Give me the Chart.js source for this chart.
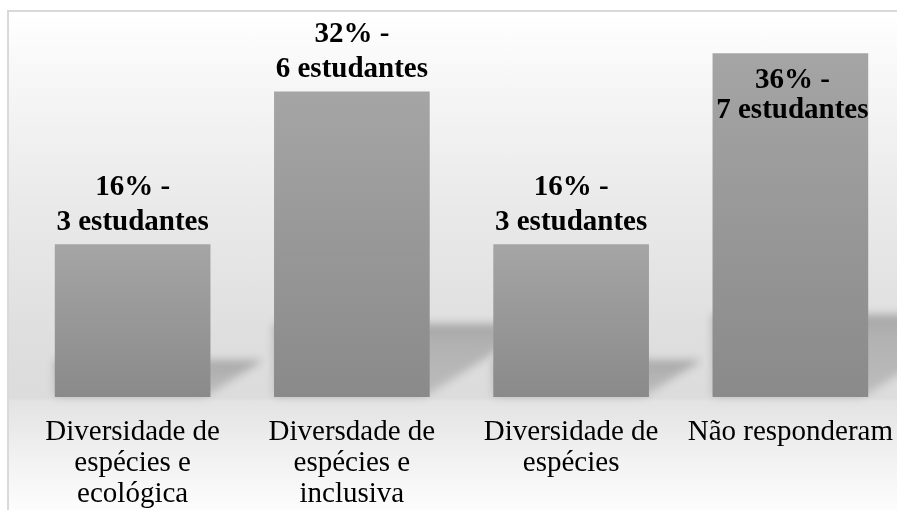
<!DOCTYPE html>
<html lang="pt">
<head>
<meta charset="utf-8">
<title>Respostas dos estudantes</title>
<script src="https://cdn.jsdelivr.net/npm/chart.js@4.4.1/dist/chart.umd.min.js"></script>
<style>
  html, body { margin: 0; padding: 0; background: #ffffff; overflow: hidden; }
  #stage { position: relative; width: 897px; height: 510px; overflow: hidden; }
  #panel {
    position: absolute; left: 7px; top: 10px; width: 900px; height: 510px;
    border-left: 2px solid #d9d9d9; border-top: 2px solid #d9d9d9;
    background: linear-gradient(to bottom,
      #ffffff 0px, #f4f4f4 90px, #e9e9e9 200px, #dedede 330px, #dcdcdc 386px,
      #e3e3e3 389px, #f0f0f0 440px, #fdfdfd 500px);
  }
  #chart { position: absolute; left: 0; top: 0; }
</style>
</head>
<body>
<div id="stage">
  <div id="panel"></div>
  <canvas id="chart" width="905" height="510"></canvas>
</div>
<script>
// Categorias (rótulos já quebrados em linhas)
const categories = [
  ["Diversidade de", "espécies e", "ecológica"],
  ["Diversdade de", "espécies e", "inclusiva"],
  ["Diversidade de", "espécies"],
  ["Não responderam"]
];
// Percentual de estudantes por resposta
const percentages = [16, 32, 16, 36];
// Número de estudantes por resposta
const students = [3, 6, 3, 7];
// Limite do eixo de valores
const yMax = 40;

const serif = '"Liberation Serif", "Times New Roman", serif';

// Gradiente vertical de cada barra: claro no topo, escuro na base
function barFill(ctx) {
  const chart = ctx.chart;
  if (!chart.chartArea || ctx.type !== 'data') return '#9a9a9a';
  const y = chart.scales.y;
  const top = y.getPixelForValue(ctx.parsed ? ctx.parsed.y : percentages[ctx.dataIndex]);
  const base = y.getPixelForValue(0);
  const g = chart.ctx.createLinearGradient(0, top, 0, base);
  g.addColorStop(0, '#a5a5a5');
  g.addColorStop(1, '#8a8a8a');
  return g;
}

// Sombra projetada no piso atrás de cada barra
const floorShadow = {
  id: 'floorShadow',
  beforeDatasetsDraw(chart) {
    const c = chart.ctx;
    const meta = chart.getDatasetMeta(0);
    c.save();
    c.filter = 'blur(4px)';
    meta.data.forEach((bar) => {
      const h = bar.base - bar.y;
      const dy = h * 0.24;
      const dx = dy * 1.6;
      const L = bar.x - bar.width / 2;
      const R = bar.x + bar.width / 2 - 6;
      const B = bar.base;
      const g = c.createLinearGradient(0, B - dy, 0, B);
      g.addColorStop(0, 'rgba(0,0,0,0.26)');
      g.addColorStop(0.25, 'rgba(0,0,0,0.2)');
      g.addColorStop(1, 'rgba(0,0,0,0.14)');
      c.fillStyle = g;
      c.beginPath();
      c.moveTo(L, B);
      c.lineTo(R, B);
      c.lineTo(R + dx, B - dy);
      c.lineTo(L, B - dy);
      c.closePath();
      c.fill();
    });
    c.restore();
  }
};

// Rótulos de valor: acima da barra, ou dentro dela quando não cabem
const valueLabels = {
  id: 'valueLabels',
  afterDatasetsDraw(chart) {
    const c = chart.ctx;
    const meta = chart.getDatasetMeta(0);
    c.save();
    c.font = 'bold 29px ' + serif;
    c.fillStyle = '#000000';
    c.textAlign = 'center';
    c.textBaseline = 'middle';
    meta.data.forEach((bar, i) => {
      const l1 = percentages[i] + '% -';
      const l2 = students[i] + ' estudantes';
      if (bar.y - 76 > 4) {
        c.fillText(l1, bar.x, bar.y - 57);
        c.fillText(l2, bar.x, bar.y - 22);
      } else {
        c.fillText(l1, bar.x + 2, bar.y + 27);
        c.fillText(l2, bar.x + 2, bar.y + 57);
      }
    });
    c.restore();
  }
};

new Chart(document.getElementById('chart'), {
  type: 'bar',
  data: {
    labels: categories,
    datasets: [{
      data: percentages,
      backgroundColor: barFill,
      borderWidth: 0,
      barPercentage: 0.71,
      categoryPercentage: 1.0
    }]
  },
  options: {
    responsive: false,
    animation: false,
    events: [],
    layout: { padding: { left: 23, right: 5, top: 15, bottom: 0 } },
    plugins: { legend: { display: false }, tooltip: { enabled: false } },
    scales: {
      x: {
        grid: { display: false, drawTicks: false },
        border: { display: false },
        ticks: {
          color: '#000000',
          font: { family: serif, size: 29, lineHeight: '31px' },
          padding: 20,
          maxRotation: 0,
          minRotation: 0,
          autoSkip: false
        },
        // faixa fixa para os rótulos das categorias
        afterFit(scale) {
          scale.height = 113;
          scale.paddingLeft = 0;
          scale.paddingRight = 0;
        }
      },
      y: {
        display: false,
        min: 0,
        max: yMax
      }
    }
  },
  plugins: [floorShadow, valueLabels]
});
</script>
</body>
</html>
